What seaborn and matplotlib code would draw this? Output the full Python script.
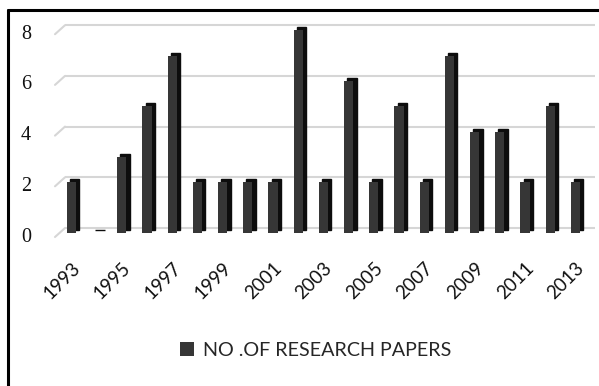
import matplotlib
matplotlib.use("Agg")
import matplotlib.pyplot as plt
import seaborn as sns
import pandas as pd
from matplotlib.transforms import offset_copy
from matplotlib.lines import Line2D
from matplotlib.patches import Patch

years = [str(y) for y in range(1993, 2014)]
papers = [2, 0, 3, 5, 7, 2, 2, 2, 2, 8, 2, 6, 2, 5, 2, 7, 4, 4, 2, 5, 2]
y_ticks = [0, 2, 4, 6, 8]
series_name = "NO .OF RESEARCH PAPERS"

df = pd.DataFrame({"year": years, "papers": papers})

sns.set_theme(style="white")
plt.rcParams["font.family"] = ["Lato", "DejaVu Sans"]

W, H, DPI = 599, 386, 100
fig = plt.figure(figsize=(W / DPI, H / DPI), dpi=DPI)
fig.patch.set_facecolor("white")

# axes placed in pixel terms: left 55, right 590, baseline at 233 px from top
ax_left, ax_right = 55, 590
base_px, top_px = 233, 15
ax = fig.add_axes([ax_left / W, (H - base_px) / H,
                   (ax_right - ax_left) / W, (base_px - top_px) / H])
ax.set_facecolor("none")

bar_w = 0.37
depth_x, depth_y = 3.3, 3.0

# dark side/top faces: shifted copies behind the front faces
sns.barplot(data=df, x="year", y="papers", color="#0d0d0d",
            width=bar_w, ax=ax, saturation=1, zorder=3,
            edgecolor="#0d0d0d", linewidth=1.0)
side_tr = offset_copy(ax.transData, fig=fig, x=depth_x, y=depth_y, units="dots")
for p in list(ax.patches):
    p.set_transform(side_tr)
n_side = len(ax.patches)

# front faces
sns.barplot(data=df, x="year", y="papers", color="#363636",
            width=bar_w, ax=ax, saturation=1, zorder=4, linewidth=0)
for p in ax.patches[n_side:]:
    p.set_zorder(4)

ax.set_xlim(-0.65, 20.58)
ax.set_ylim(0, 8.6)

# floor/back-wall gridlines with a short perspective edge on the left
back_tr = offset_copy(ax.transData, fig=fig, x=10, y=5, units="dots")
front_tr = offset_copy(ax.transData, fig=fig, x=0, y=-4, units="dots")
label_tr = offset_copy(ax.transData, fig=fig, x=-24, y=-4, units="dots")
x0, x1 = ax.get_xlim()
for v in y_ticks:
    ax.plot([x0, x1 - 0.2], [v, v], color="#d6d6d6", lw=1.5, transform=back_tr,
            zorder=1, clip_on=False, solid_capstyle="butt")
    ax.annotate("", xy=(x0, v), xycoords=back_tr, xytext=(x0, v),
                textcoords=front_tr,
                arrowprops=dict(arrowstyle="-", color="#d6d6d6", lw=1.5,
                                shrinkA=0, shrinkB=0), zorder=1,
                annotation_clip=False)
    ax.text(x0, v, str(v), transform=label_tr,
            ha="right", va="center", fontsize=14.5, color="#111111",
            family="Liberation Serif")

ax.set_yticks([])
ax.set_ylabel("")
ax.set_xlabel("")
ax.set_xticks(range(0, len(years), 2))
ax.set_xticklabels(years[::2], rotation=45, ha="right", va="top",
                   rotation_mode="anchor", fontsize=13.5, color="#111111")
ax.tick_params(axis="x", length=0, pad=19)
for s in ax.spines.values():
    s.set_visible(False)

# legend
handle = Patch(facecolor="#363636", edgecolor="none")
fig.legend([handle], [series_name], loc="center", frameon=False,
           bbox_to_anchor=(316 / W, 1 - 350 / H), fontsize=14.2,
           handlelength=0.7, handleheight=0.7, handletextpad=0.45)

# outer frame (top and left edges visible)
fig.add_artist(Line2D([8 / W, 8 / W], [0, 1 - 10 / H], color="black",
                      lw=2.2, transform=fig.transFigure))
fig.add_artist(Line2D([8 / W, 1], [1 - 10 / H, 1 - 10 / H], color="black",
                      lw=2.2, transform=fig.transFigure))

fig.savefig("out.png", dpi=DPI, facecolor="white")
